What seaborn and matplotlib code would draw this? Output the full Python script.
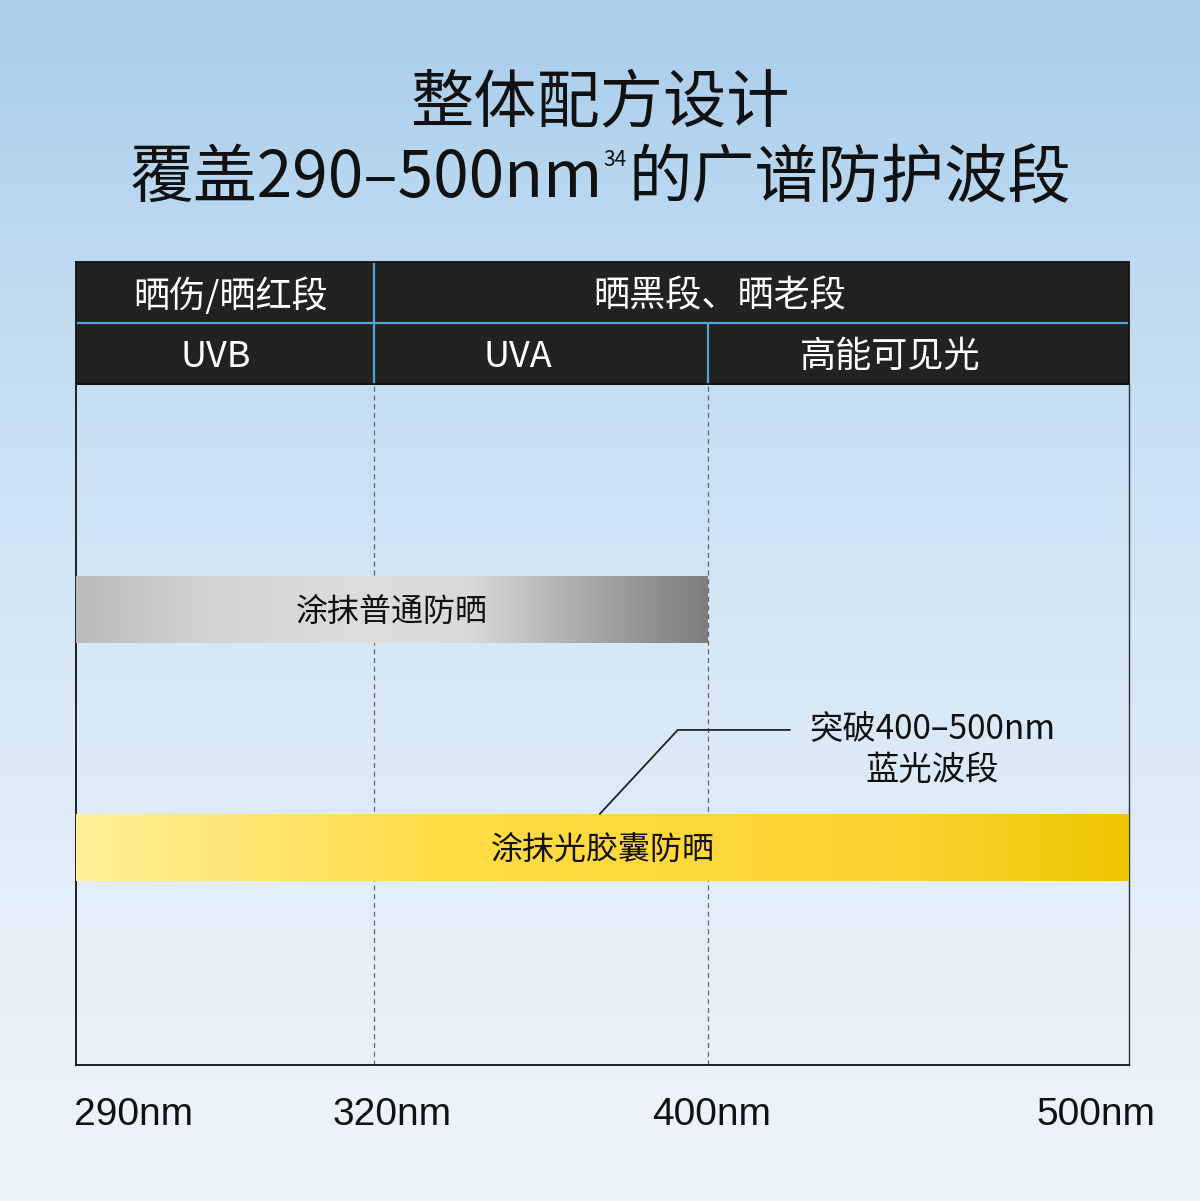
import numpy as np
import pandas as pd
import matplotlib
matplotlib.use("Agg")
import matplotlib.pyplot as plt
import seaborn as sns
from matplotlib.colors import LinearSegmentedColormap
from matplotlib import transforms

# wavelength band edges (nm) and where they sit across the chart width
band_edges = [290, 320, 400, 500]
edge_frac = [0.0, 0.283, 0.600, 1.0]
tick_labels = ["290nm", "320nm", "400nm", "500nm"]

top_labels = ["晒伤/晒红段", "晒黑段、晒老段"]
top_label_x = [305.6, 402.9]
bottom_labels = ["UVB", "UVA", "高能可见光"]
bottom_label_x = [304.1, 354.5, 443.2]

products = ["涂抹普通防晒", "涂抹光胶囊防晒"]
product_end = [400, 500]

callout = "突破400–500nm\n蓝光波段"


def fwd(x):
    x = np.asarray(x, dtype=float)
    y = np.interp(x, band_edges, edge_frac)
    lo = (edge_frac[1] - edge_frac[0]) / (band_edges[1] - band_edges[0])
    hi = (edge_frac[-1] - edge_frac[-2]) / (band_edges[-1] - band_edges[-2])
    y = np.where(x < band_edges[0], (x - band_edges[0]) * lo, y)
    y = np.where(x > band_edges[-1], 1 + (x - band_edges[-1]) * hi, y)
    return y


def inv(y):
    y = np.asarray(y, dtype=float)
    x = np.interp(y, edge_frac, band_edges)
    lo = (band_edges[1] - band_edges[0]) / (edge_frac[1] - edge_frac[0])
    hi = (band_edges[-1] - band_edges[-2]) / (edge_frac[-1] - edge_frac[-2])
    x = np.where(y < 0, band_edges[0] + y * lo, x)
    x = np.where(y > 1, band_edges[-1] + (y - 1) * hi, x)
    return x


sns.set_theme(style="white")
plt.rcParams["font.family"] = ["Noto Sans CJK SC", "DejaVu Sans"]

W, H = 1200, 1201
fig = plt.figure(figsize=(W / 100, H / 100), dpi=100)

# background gradient
bg = fig.add_axes([0, 0, 1, 1], zorder=0)
bg_cmap = LinearSegmentedColormap.from_list(
    "bg", [(0, "#a9cdeb"), (0.2, "#bcd9f1"), (0.5, "#d4e6f5"), (0.8, "#e6f0f9"), (1, "#eef4fb")])
grad = np.linspace(0, 1, 400).reshape(-1, 1)
bg.imshow(grad, cmap=bg_cmap, aspect="auto", extent=[0, 1, 0, 1])
bg.set_xlim(0, 1)
bg.set_ylim(0, 1)
bg.axis("off")

# title
fig.text(0.5, 1 - 103 / H, "整体配方设计", ha="center", va="center", fontsize=45.5, color="#111111")
fig.text(603 / W, 1 - 179 / H, "覆盖290–500nm", ha="right", va="center", fontsize=46, color="#111111")
fig.text(603 / W, 1 - 160 / H, "34", ha="left", va="center", fontsize=15, color="#111111")
fig.text(628 / W, 1 - 179 / H, "的广谱防护波段", ha="left", va="center", fontsize=45.5, color="#111111")

# main plot area
left, right = 76 / W, 1129 / W
ax = fig.add_axes([left, (H - 1065) / H, right - left, 681 / H], zorder=2)
ax.set_facecolor("none")

df = pd.DataFrame({"product": products, "end": product_end})
bar_h = 67 / 238
sns.barplot(data=df, x="end", y="product", orient="h", width=bar_h,
            color="#cccccc", saturation=1, linewidth=0, ax=ax, zorder=2)

ax.set_xscale("function", functions=(fwd, inv))

gray_cmap = LinearSegmentedColormap.from_list(
    "gray", [(0, "#bababa"), (0.2, "#d2d2d2"), (0.45, "#dddddd"), (0.62, "#d9d9d9"),
             (0.78, "#b0b0b0"), (0.9, "#939393"), (1, "#7e7e7e")])
yellow_cmap = LinearSegmentedColormap.from_list(
    "yellow", [(0, "#fff096"), (0.15, "#ffe674"), (0.35, "#ffdd45"), (0.6, "#fdd83a"),
               (0.8, "#f8d32e"), (1, "#efc400")])
hgrad = np.linspace(0, 1, 512).reshape(1, -1)
for bar, end, cm in zip(ax.patches, product_end, [gray_cmap, yellow_cmap]):
    im = ax.imshow(hgrad, cmap=cm, aspect="auto", extent=[0, float(fwd(end)), 0, 1],
                   transform=ax.transAxes, zorder=3)
    im.set_clip_path(bar)

for i, (name, end) in enumerate(zip(products, product_end)):
    xc = float(inv((fwd(band_edges[0]) + fwd(end)) / 2))
    ax.text(xc, i + 0.012, name, ha="center", va="center", fontsize=23, color="#111111", zorder=4)

for x in band_edges[1:3]:
    ax.axvline(x, color="#666666", lw=0.9, ls=(0, (4, 3)), zorder=1)

# callout
ax.plot([374.1, 392.8, 419.5], [1 - bar_h / 2, 0.506, 0.506], color="#222222", lw=1.3, zorder=4)
ax.text(453.2, 0.59, callout, ha="center", va="center", fontsize=24, color="#111111",
        linespacing=1.25, zorder=4)

ax.set_xlim(band_edges[0], band_edges[-1])
ax.set_ylim(-0.9475 + 681 / 238, -0.9475)
ax.set_xticks([])
ax.set_yticks([])
ax.set_xlabel("")
ax.set_ylabel("")
for side in ["left", "bottom", "top"]:
    ax.spines[side].set_color("#111111")
    ax.spines[side].set_linewidth(1.3)
ax.spines["right"].set_color("#333333")
ax.spines["right"].set_linewidth(1.0)

# tick labels below the axis
tick_shift = [58, 18, 4, -33]
for x, lab, dx in zip(band_edges, tick_labels, tick_shift):
    tr = transforms.offset_copy(ax.get_xaxis_transform(), fig=fig, x=dx * 0.72, y=0, units="points")
    ax.text(x, -50 / 681, lab, transform=tr, ha="center", va="center", fontsize=28,
            family="Liberation Sans", color="#111111")

# header table
hax = fig.add_axes([left, (H - 384) / H, right - left, 122 / H], zorder=3)
hax.set_xscale("function", functions=(fwd, inv))
hax.set_xlim(band_edges[0], band_edges[-1])
hax.set_ylim(0, 2)
hax.set_facecolor("#222222")
hax.set_xticks([])
hax.set_yticks([])
for s in hax.spines.values():
    s.set_color("#111111")
    s.set_linewidth(1.3)
blue = "#4ea6db"
hax.axhline(1, color=blue, lw=1.6)
hax.vlines(band_edges[1], 0, 2, color=blue, lw=1.6)
hax.vlines(band_edges[2], 0, 1, color=blue, lw=1.6)
for x, lab in zip(top_label_x, top_labels):
    hax.text(x, 1.44, lab, ha="center", va="center", fontsize=26, color="white", fontweight="medium")
for x, lab in zip(bottom_label_x, bottom_labels):
    hax.text(x, 0.45, lab, ha="center", va="center", fontsize=26, color="white", fontweight="medium")

fig.savefig("out.png", dpi=100)
